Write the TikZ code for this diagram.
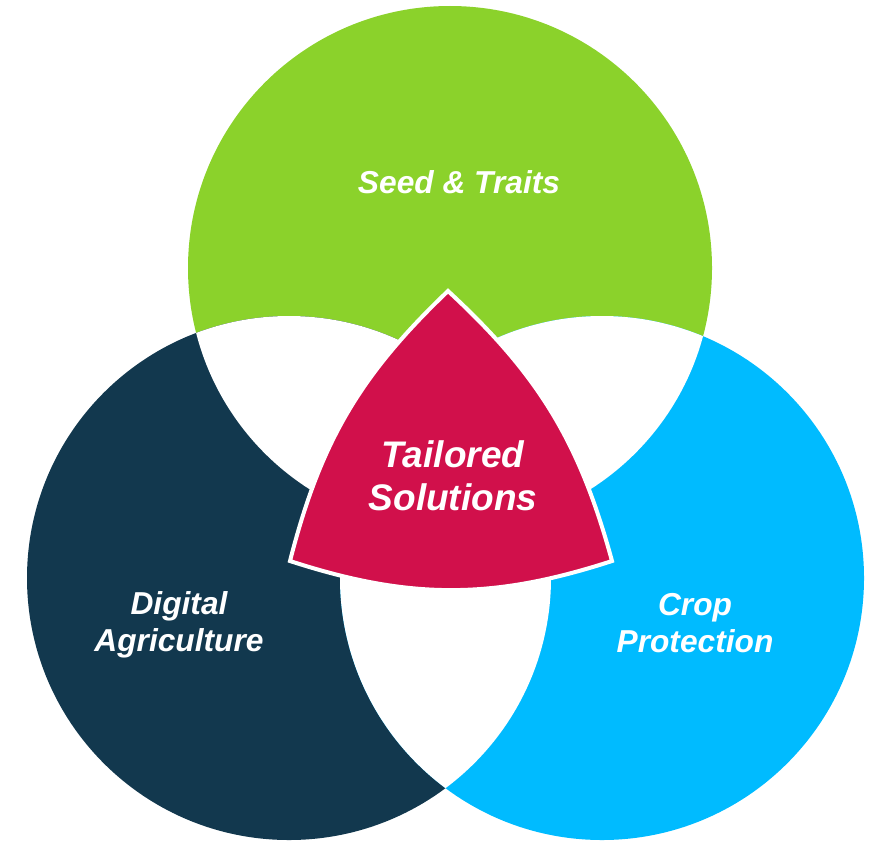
\documentclass[tikz,border=0pt]{standalone}
\usepackage{fontspec}
\setmainfont{Liberation Sans}
\definecolor{seedgreen}{HTML}{8BD22B}
\definecolor{digitalnavy}{HTML}{12384E}
\definecolor{cropcyan}{HTML}{00BBFF}
\definecolor{tailoredred}{HTML}{D1104B}

\begin{document}
\begin{tikzpicture}[x=1pt, y=-1pt,
		venntext/.style = {text=white, align=center, font=\bfseries\itshape\fontsize{31.7}{37}\selectfont},
		bigtext/.style = {venntext, font=\bfseries\itshape\fontsize{37}{43}\selectfont},
		petal/.style = {fill=tailoredred, draw=white, line width=4pt, line join=miter}]
		\useasboundingbox (0,0) rectangle (874,843);
		\coordinate (seed) at (450,268);
		\coordinate (digital) at (289,578);
		\coordinate (crop) at (602,578);
		
		\fill[seedgreen] (seed) circle (262pt);
		\fill[digitalnavy] (digital) circle (262pt);
		\fill[cropcyan] (crop) circle (262pt);
		
		% overlaps are left white
		\begin{scope}
			\clip (seed) circle (262pt);
			\fill[white] (digital) circle (262pt);
			\fill[white] (crop) circle (262pt);
		\end{scope}
		\begin{scope}
			\clip (digital) circle (262pt);
			\fill[white] (crop) circle (262pt);
		\end{scope}
		
		\coordinate (top) at (448,291);
		\coordinate (left) at (290,561);
		\coordinate (right) at (612,561);
		\filldraw[petal] (top) to[bend right=16] (left) to[bend right=18] (right) to[bend right=16] cycle;
		
		\node[venntext] (seedtxt) at (459,182) {Seed \& Traits};
		\node[bigtext] (tailtxt) at (453,476) {Tailored\\Solutions};
		\node[venntext] (digitxt) at (179,625) {Digital\\Agriculture};
		\node[venntext] (croptxt) at (695,623) {Crop\\Protection};
	\end{tikzpicture}
\end{document}
